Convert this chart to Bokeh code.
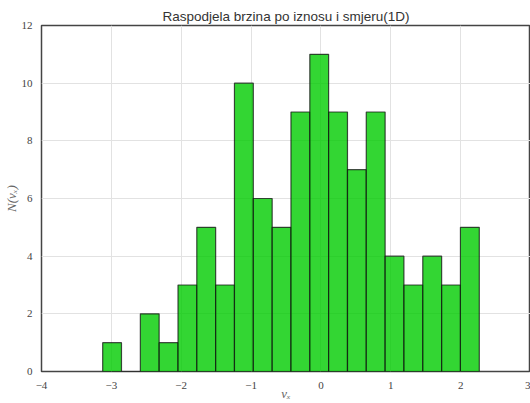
from bokeh.plotting import figure
from bokeh.models import FixedTicker, Range1d, Title
from bokeh.embed import file_html
from bokeh.resources import INLINE

# Bin edges and counts
bin_edges = [-3.124, -2.855, -2.585, -2.316, -2.046, -1.777, -1.507, -1.238,
             -0.968, -0.698, -0.429, -0.159, 0.110, 0.380, 0.649, 0.919,
             1.188, 1.458, 1.728, 1.997, 2.267]
counts = [1, 0, 2, 1, 3, 5, 3, 10, 6, 5, 9, 11, 9, 7, 9, 4, 3, 4, 3, 5]

x_ticks = [-4, -3, -2, -1, 0, 1, 2, 3]
x_tick_labels = ["\u22124", "\u22123", "\u22122", "\u22121", "0", "1", "2", "3"]
y_ticks = [0, 2, 4, 6, 8, 10, 12]
y_tick_labels = ["0", "2", "4", "6", "8", "10", "12"]

title_text = "Raspodjela brzina po iznosu i smjeru(1D)"
x_label = "v\u2093"
y_label = "N(v\u2093)"

p = figure(width=530, height=403, output_backend="svg", toolbar_location=None,
           x_range=Range1d(-4, 3), y_range=Range1d(0, 12),
           min_border_left=40, min_border_right=0, min_border_top=25,
           min_border_bottom=31)

p.title = Title(text=title_text, align="center", text_font="Liberation Sans",
                text_font_size="13.5px", text_font_style="normal",
                text_color="#333333", standoff=4, offset=0)

p.quad(left=bin_edges[:-1], right=bin_edges[1:], bottom=0, top=counts,
       fill_color="#00cc00", fill_alpha=0.8, line_color="#111111",
       line_alpha=0.75, line_width=1.2)

p.outline_line_color = "#444444"
p.outline_line_width = 1.5
p.background_fill_color = "white"
p.border_fill_color = "white"

for ax, ticks, labels in ((p.xaxis[0], x_ticks, x_tick_labels),
                          (p.yaxis[0], y_ticks, y_tick_labels)):
    ax.ticker = FixedTicker(ticks=ticks)
    ax.major_label_overrides = {t: l for t, l in zip(ticks, labels)}
    ax.major_tick_line_color = None
    ax.minor_tick_line_color = None
    ax.axis_line_color = None
    ax.major_label_text_font = "Liberation Serif"
    ax.major_label_text_font_size = "11px"
    ax.major_label_text_color = "#444444"
    ax.axis_label_text_font = "Liberation Serif"
    ax.axis_label_text_font_size = "13px"
    ax.axis_label_text_font_style = "italic"
    ax.axis_label_text_color = "#666666"

p.xaxis.major_label_standoff = 4
p.yaxis.major_label_standoff = 3
p.xaxis.axis_label = x_label
p.yaxis.axis_label = y_label
p.xaxis.axis_label_standoff = -6
p.yaxis.axis_label_standoff = 0

p.xgrid.ticker = FixedTicker(ticks=x_ticks)
p.ygrid.ticker = FixedTicker(ticks=y_ticks)
p.grid.grid_line_color = "#e2e2e2"
p.grid.grid_line_width = 1

open("out.html", "w").write(file_html(p, INLINE))
